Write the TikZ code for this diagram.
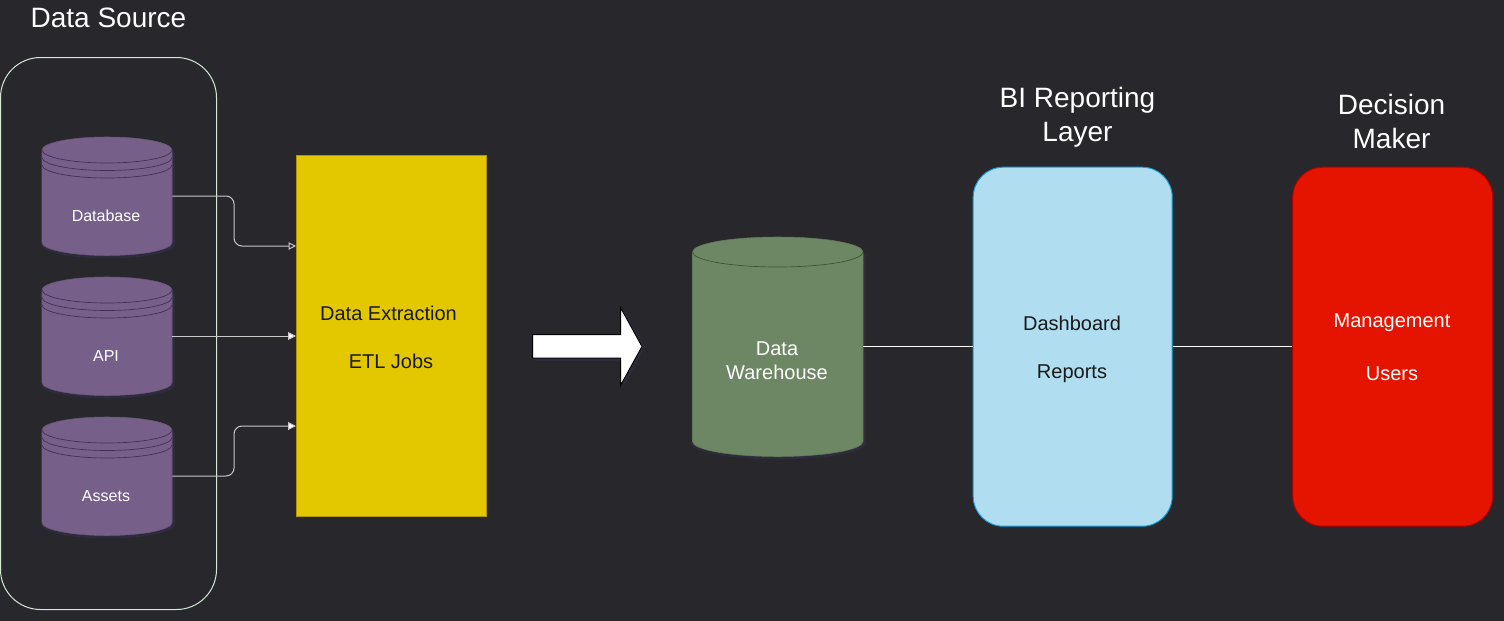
\documentclass[tikz,border=0pt]{standalone}
\usepackage{fontspec}
\setmainfont{Liberation Sans}
\usetikzlibrary{arrows.meta}
\definecolor{bg}{HTML}{27272C}
\definecolor{halo}{HTML}{2E2C3C}
\definecolor{purp}{HTML}{76608A}
\definecolor{purpl}{HTML}{432D57}
\definecolor{grn}{HTML}{6D8764}
\definecolor{grnl}{HTML}{3A5431}
\definecolor{yel}{HTML}{E3C800}
\definecolor{yell}{HTML}{B09500}
\definecolor{sky}{HTML}{B1DDF0}
\definecolor{skyl}{HTML}{10A0D8}
\definecolor{rd}{HTML}{E51400}
\definecolor{rdl}{HTML}{B20000}
\definecolor{grp}{HTML}{D5E8D4}
\definecolor{wire}{HTML}{C8C8C8}
\tikzset{
  x=0.75pt,y=-0.75pt,
  heading/.style={text=white,font=\fontsize{21}{25.5}\selectfont,inner sep=0pt},
  bodydark/.style={text=black!90,font=\fontsize{15}{18}\selectfont,inner sep=0pt},
  bodylight/.style={text=white,font=\fontsize{15}{18}\selectfont,inner sep=0pt},
  cyllabel/.style={text=white,font=\fontsize{12}{14}\selectfont,inner sep=0pt,align=center},
  panel/.style={rounded corners=#1,line width=0.75pt},
  wiring/.style={draw=wire,line width=0.75pt,rounded corners=6pt},
  plainlink/.style={draw=white,line width=0.75pt},
}
% \cyl{x1}{ytop}{x2}{ybottom}{ry}{fill}{line}{rings}
\newcommand{\cyl}[8]{%
  \path[fill=halo] (#1-1,#2+#5+3) -- (#1-1,#4-#5+2) arc[start angle=180,end angle=0,x radius=(#3-#1+4)/2,y radius=#5+1] -- (#3+3,#2+#5+3) -- cycle;
  \filldraw[fill=#6,draw=#6!90!black,line width=0.4pt] (#1,#2+#5) -- (#1,#4-#5)
    arc[start angle=180,end angle=0,x radius=(#3-#1)/2,y radius=#5]
    -- (#3,#2+#5) arc[start angle=0,end angle=-180,x radius=(#3-#1)/2,y radius=#5] -- cycle;
  \draw[draw=#7,line width=0.5pt] (#1,#2+#5) arc[start angle=180,end angle=0,x radius=(#3-#1)/2,y radius=#5];
  \ifnum#8>0
    \draw[draw=#7,line width=0.5pt] (#1,#2+#5+7.5) arc[start angle=180,end angle=0,x radius=(#3-#1)/2,y radius=#5];
    \draw[draw=#7,line width=0.5pt] (#1,#2+#5+15) arc[start angle=180,end angle=0,x radius=(#3-#1)/2,y radius=#5];
  \fi
}
\begin{document}
\begin{tikzpicture}
\useasboundingbox[fill=bg] (0,0) rectangle (1504,621);
% group
\node[draw=grp,panel=30pt,minimum width=162pt,minimum height=414pt,anchor=north west,inner sep=0pt] (group) at (0,57) {};
\node[heading] (hsrc) at (108.5,18) {Data Source};
% sources
\cyl{42}{137}{172}{255.5}{13}{purp}{purpl}{1}
\cyl{42}{277}{172}{395.5}{13}{purp}{purpl}{1}
\cyl{42}{417}{172}{535.5}{13}{purp}{purpl}{1}
\node[minimum width=97.5pt,minimum height=89.25pt,inner sep=0pt] (db) at (107,196) {};
\node[minimum width=97.5pt,minimum height=89.25pt,inner sep=0pt] (api) at (107,336) {};
\node[minimum width=97.5pt,minimum height=89.25pt,inner sep=0pt] (as) at (107,476) {};
\node[cyllabel] (dbt) at (106,216) {Database};
\node[cyllabel] (apit) at (106,356) {API};
\node[cyllabel] (ast) at (106,496) {Assets};
% ETL
\node[fill=yel,draw=yell,line width=0.75pt,minimum width=142.5pt,minimum height=270.75pt,anchor=north west,inner sep=0pt] (etl) at (295.5,154.5) {};
\node[bodydark] (etl1) at (388.5,313) {Data Extraction};
\node[bodydark] (etl2) at (391,361) {ETL Jobs};
\coordinate (etlA) at (296,246);
\coordinate (etlB) at (296,336);
\coordinate (etlC) at (296,426);
\coordinate (midA) at (234,196);
\coordinate (midB) at (234,246);
\coordinate (midC) at (234,476);
\coordinate (midD) at (234,426);
\draw[wiring,-{Triangle[open,length=5.5pt,width=5.5pt]}] (db.east) -- (midA) -- (midB) -- (etlA);
\draw[wiring,-{Triangle[fill=white,length=6pt,width=6pt]}] (api.east) -- (etlB);
\draw[wiring,-{Triangle[fill=white,length=6pt,width=6pt]}] (as.east) -- (midC) -- (midD) -- (etlC);
% big arrow
\path[fill=halo] (535,337) -- (623,337) -- (623,310) -- (645,347) -- (623,388) -- (623,361) -- (535,361) -- cycle;
\filldraw[fill=white,draw=black,line width=0.75pt,miter limit=10] (532.5,334.5) -- (620.5,334.5) -- (620.5,307.5) -- (642,346.5) -- (620.5,385.5) -- (620.5,358) -- (532.5,358) -- cycle;
% warehouse
\cyl{692.5}{237}{863}{456.5}{15}{grn}{grnl}{0}
\node[minimum width=127.9pt,minimum height=165pt,inner sep=0pt] (wh) at (777.75,346.5) {};
\node[text=white,font=\fontsize{15}{18}\selectfont,inner sep=0pt,align=center] (wht) at (777,361) {Data\\Warehouse};
% BI
\node[fill=sky,draw=skyl,line width=0.75pt,panel=22.5pt,minimum width=149.25pt,minimum height=269.25pt,anchor=north west,inner sep=0pt] (bi) at (972.7,166.7) {};
\node[heading,align=center] (hbi) at (1077.5,117.5) {BI Reporting\\Layer};
\node[bodydark] (bi1) at (1072,323) {Dashboard};
\node[bodydark] (bi2) at (1072,374) {Reports};
% decision
\node[fill=rd,draw=rdl,line width=0.75pt,panel=22.5pt,minimum width=150pt,minimum height=269.25pt,anchor=north west,inner sep=0pt] (dm) at (1292.2,166.7) {};
\node[heading,align=center] (hdm) at (1391.5,121.5) {Decision\\Maker};
\node[bodylight] (dm1) at (1392,323) {Management};
\node[bodylight] (dm2) at (1392,374) {Users};
% links
\draw[plainlink] (wh.east) -- (wh.east -| bi.west);
\draw[plainlink] (bi.east |- wh.east) -- (dm.west |- wh.east);
\end{tikzpicture}
\end{document}
